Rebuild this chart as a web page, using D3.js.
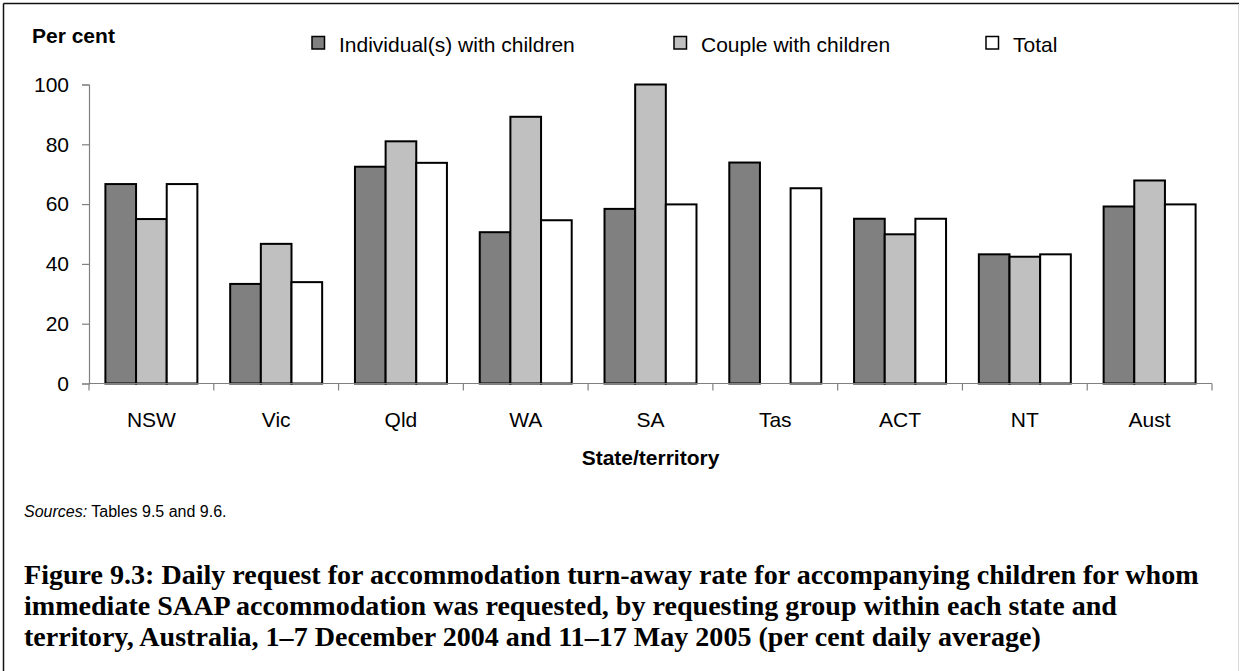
<!DOCTYPE html>
<html>
<head>
<meta charset="utf-8">
<script src="https://cdn.jsdelivr.net/npm/d3@7"></script>
<style>
  html, body { margin: 0; padding: 0; background: #fff; }
  svg { display: block; }
</style>
</head>
<body>
<svg id="chart" width="1240" height="671"></svg>
<script>
// Turn-away rates (per cent daily average) by requesting group and state/territory
const categories = ["NSW", "Vic", "Qld", "WA", "SA", "Tas", "ACT", "NT", "Aust"];
const seriesNames = ["Individual(s) with children", "Couple with children", "Total"];
const individualWithChildren = [66.7, 33.3, 72.5, 50.6, 58.4, 73.9, 55.1, 43.2, 59.2];
const coupleWithChildren     = [55.0, 46.7, 81.0, 89.2, 100.0, null, 49.9, 42.4, 67.9];
const totalRate              = [66.7, 33.9, 73.8, 54.6, 59.9, 65.3, 55.1, 43.2, 59.9];
const yTicks = [0, 20, 40, 60, 80, 100];

const captionLines = [
  "Figure 9.3: Daily request for accommodation turn-away rate for accompanying children for whom",
  "immediate SAAP accommodation was requested, by requesting group within each state and",
  "territory, Australia, 1\u20137 December 2004 and 11\u201317 May 2005 (per cent daily average)"
];

const seriesValues = [individualWithChildren, coupleWithChildren, totalRate];
const fills = ["#808080", "#c0c0c0", "#ffffff"];
const sans = "'Liberation Sans', Arial, Helvetica, sans-serif";
const serif = "'Liberation Serif', 'Times New Roman', serif";

const svg = d3.select("#chart");

// frame
svg.append("line").attr("x1", 3.5).attr("x2", 1239).attr("y1", 3.5).attr("y2", 3.5)
  .attr("stroke", "#111").attr("stroke-width", 1.5);
svg.append("line").attr("x1", 3.5).attr("x2", 3.5).attr("y1", 3.5).attr("y2", 671)
  .attr("stroke", "#111").attr("stroke-width", 1.5);
svg.append("line").attr("x1", 1238.5).attr("x2", 1238.5).attr("y1", 4).attr("y2", 671)
  .attr("stroke", "#d8d8d8").attr("stroke-width", 1);

// scales
const x0 = d3.scaleBand().domain(categories).range([89, 1212]).paddingInner(0).paddingOuter(0);
const x1 = d3.scaleBand().domain(d3.range(seriesNames.length))
  .range([0, x0.bandwidth()]).paddingInner(0).paddingOuter(0.535);
const y = d3.scaleLinear().domain([0, 100]).range([383.5, 84.5]);

// y axis
const yAxis = svg.append("g").attr("transform", "translate(89,0)")
  .call(d3.axisLeft(y).tickValues(yTicks).tickSize(7).tickPadding(13).tickFormat(d3.format("d")));
yAxis.select(".domain").attr("stroke", "#808080").attr("stroke-width", 1.2);
yAxis.selectAll(".tick line").attr("stroke", "#808080").attr("stroke-width", 1.2);
yAxis.selectAll(".tick text").attr("font-family", sans).attr("font-size", 21).attr("fill", "#000");

// bars
const groups = svg.append("g").selectAll("g")
  .data(categories).join("g")
  .attr("transform", d => `translate(${x0(d)},0)`);

groups.selectAll("rect")
  .data((d, i) => seriesValues.map((vals, s) => ({ s, v: vals[i] })).filter(e => e.v != null))
  .join("rect")
  .attr("x", d => x1(d.s))
  .attr("width", x1.bandwidth())
  .attr("y", d => y(d.v))
  .attr("height", d => y(0) - y(d.v))
  .attr("fill", d => fills[d.s])
  .attr("stroke", "#000")
  .attr("stroke-width", 2);

// x axis (ticks between categories)
const xAxisG = svg.append("g").attr("transform", `translate(0,${y(0)})`);
xAxisG.append("line").attr("x1", 89).attr("x2", 1212).attr("y1", 0).attr("y2", 0)
  .attr("stroke", "#808080").attr("stroke-width", 1.2);
const boundaries = categories.map(c => x0(c)).concat([x0(categories[categories.length - 1]) + x0.bandwidth()]);
xAxisG.selectAll("line.tk").data(boundaries).join("line").attr("class", "tk")
  .attr("x1", d => d).attr("x2", d => d).attr("y1", 0).attr("y2", 7)
  .attr("stroke", "#808080").attr("stroke-width", 1.2);
xAxisG.selectAll("text").data(categories).join("text")
  .attr("x", d => x0(d) + x0.bandwidth() / 2)
  .attr("y", 43)
  .attr("text-anchor", "middle")
  .attr("font-family", sans).attr("font-size", 21).attr("fill", "#000")
  .text(d => d);

// axis titles
svg.append("text").attr("x", 32).attr("y", 42.5)
  .attr("font-family", sans).attr("font-size", 21).attr("font-weight", "bold")
  .text("Per cent");
svg.append("text").attr("x", (89 + 1212) / 2).attr("y", 465).attr("text-anchor", "middle")
  .attr("font-family", sans).attr("font-size", 21).attr("font-weight", "bold")
  .text("State/territory");

// legend
const legendX = [312, 674, 986];
const legend = svg.append("g").selectAll("g").data(seriesNames).join("g")
  .attr("transform", (d, i) => `translate(${legendX[i]},0)`);
legend.append("rect").attr("x", 0).attr("y", 36.5).attr("width", 12.5).attr("height", 12.5)
  .attr("fill", (d, i) => fills[i]).attr("stroke", "#000").attr("stroke-width", 1.5);
legend.append("text").attr("x", 27).attr("y", 51.5)
  .attr("font-family", sans).attr("font-size", 21).text(d => d);

// source note
const src = svg.append("text").attr("x", 24).attr("y", 517)
  .attr("font-family", sans).attr("font-size", 16);
src.append("tspan").attr("font-style", "italic").text("Sources:");
src.append("tspan").text(" Tables 9.5 and 9.6.");

// caption
const cap = svg.append("g");
const capText = cap.selectAll("text").data(captionLines).join("text")
  .attr("x", 24).attr("y", (d, i) => 584 + i * 31)
  .attr("font-family", serif).attr("font-weight", "bold").attr("font-size", 25)
  .attr("fill", "#000").text(d => d);
// size the caption so its first line runs to the right-hand margin
const w0 = capText.nodes()[0].getComputedTextLength();
const fs = 25 * (1175 / w0);
capText.attr("font-size", fs);
</script>
</body>
</html>
